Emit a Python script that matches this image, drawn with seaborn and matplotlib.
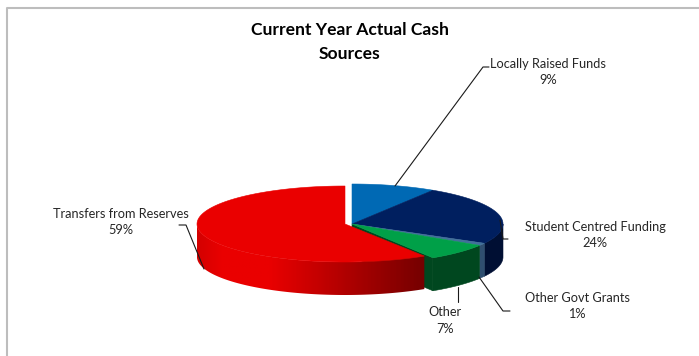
import numpy as np
import matplotlib
matplotlib.use("Agg")
import matplotlib.pyplot as plt
from matplotlib.lines import Line2D
from matplotlib.patches import Polygon
import seaborn as sns

# Cash sources, clockwise from twelve o'clock
sources = ["Locally Raised Funds", "Student Centred Funding", "Other Govt Grants", "Other", "Transfers from Reserves"]
shares = [9, 24, 1, 7, 59]
top_colors = ["#0069b4", "#001f5f", "#41709a", "#00a048", "#ea0000"]
side_colors = ["#004a80", "#000f33", "#2f4f70", "#00471f", "#750000"]
title_lines = ["Current Year Actual Cash", "Sources"]

sns.set_theme(style="white")
plt.rcParams["font.family"] = ["Lato", "DejaVu Sans"]

fig, ax = plt.subplots(figsize=(6.99, 3.56), dpi=100)
ax.set_position([0, 0, 1, 1])
ax.axis("off")

# Pie geometry in pixels
CY, RX, RY, DEPTH = 224, 151, 40, 33
CENTERS = [352, 352, 352, 352, 345]
RED_RX, RED_RY = 148, 38


def rim(cx, a0, a1, rx=RX, ry=RY, n=160):
    t = np.radians(np.linspace(a0, a1, n))
    return cx + rx * np.sin(t), CY - ry * np.cos(t)


def draw_top(cx, a0, a1, color, zorder, rx=RX, ry=RY):
    x, y = rim(cx, a0, a1, rx, ry)
    ax.fill(np.r_[cx, x], np.r_[CY, y], color=color, lw=0.4, zorder=zorder)


def side_outline(cx, a0, a1, rx=RX, ry=RY):
    a0, a1 = max(a0, 90), min(a1, 270)
    if a1 <= a0:
        return None
    x, y = rim(cx, a0, a1, rx, ry)
    return np.r_[x, x[::-1]], np.r_[y, y[::-1] + DEPTH]


edges = np.r_[0, np.cumsum(shares)] * 3.6

# Wedges of the main group, with the cut face left open by the pulled-out slice
for i in range(4):
    outline = side_outline(CENTERS[i], edges[i], edges[i + 1])
    if outline is not None:
        ax.fill(*outline, color=side_colors[i], lw=0.4, zorder=2)
fx, fy = rim(CENTERS[3], edges[4], edges[4], n=1)
ax.fill([CENTERS[3], fx[0], fx[0], CENTERS[3]], [CY, fy[0], fy[0] + DEPTH, CY + DEPTH],
        color=side_colors[3], lw=0.4, zorder=2)
for i in range(4):
    draw_top(CENTERS[i], edges[i], edges[i + 1], top_colors[i], 3)

# Transfers slice: its rim shades from bright red to dark red towards the cut end
rx_out, ry_out = side_outline(CENTERS[4], edges[4], 270, RED_RX, RED_RY)
x_span = np.arange(rx_out.min() - 1, rx_out.max() + 2)
ramp = sns.blend_palette(["#d40000", top_colors[4], top_colors[4], side_colors[4]], 400)
stops = np.interp(x_span, [197, 222, 268, 425], [0, 133, 266, 399]).astype(int)
shade = np.array([ramp[k] for k in stops])[np.newaxis, :, :]
im = ax.imshow(shade, extent=(x_span[0], x_span[-1], ry_out.max() + 1, ry_out.min() - 1),
               aspect="auto", interpolation="bilinear", zorder=4)
im.set_clip_path(Polygon(np.c_[rx_out, ry_out], closed=True, transform=ax.transData))
draw_top(CENTERS[4], edges[4], edges[5], top_colors[4], 5, RED_RX, RED_RY)

ax.set_xlim(0, 699)
ax.set_ylim(356, 0)

# Chart frame: top and left rules only
ax.add_line(Line2D([7, 7, 699], [356, 7.5, 7.5], color="#bdbdbd", lw=1.5, zorder=1))

# Leader lines
leaders = [
    ([395, 483, 489], [186, 67, 67]),
    ([500, 503, 508], [220, 239, 239]),
    ([479, 503, 510], [277, 311, 311]),
    ([457.5, 457.5], [287, 302]),
    ([179, 186, 204], [225, 225, 269]),
]
for lx, ly in leaders:
    ax.add_line(Line2D(lx, ly, color="#1a1a1a", lw=0.8, zorder=6))

# Slice labels with their percentages
label_pos = [(548, 64, 80), (595, 227, 243), (577, 298, 314), (445, 312, 329), (121, 214, 230)]
for name, val, (tx, y1, y2) in zip(sources, shares, label_pos):
    ax.text(tx, y1, name, ha="center", va="center", fontsize=9.2, color="#262626", zorder=7)
    ax.text(tx, y2, f"{val}%", ha="center", va="center", fontsize=9.2, color="#262626", zorder=7)

for line, y in zip(title_lines, [30, 54]):
    ax.text(350, y, line, ha="center", va="center", fontsize=12.6, fontweight="bold", color="black")

fig.savefig("out.png", dpi=100, facecolor="white")
